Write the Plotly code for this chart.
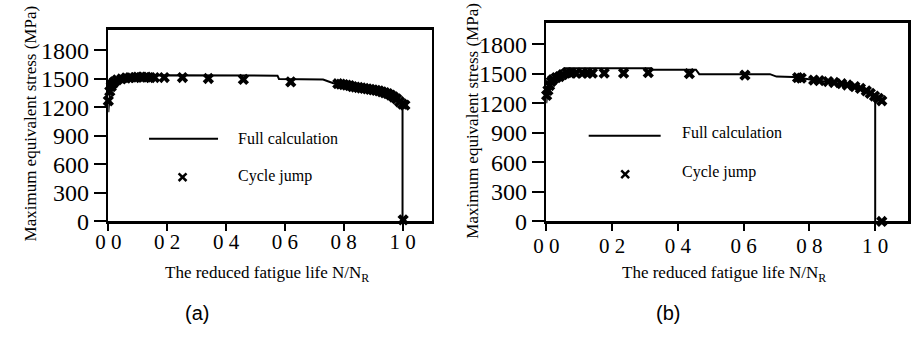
import plotly.graph_objects as go

# ---------------- data ----------------
x_tick_vals = [0.0, 0.2, 0.4, 0.6, 0.8, 1.0]
x_tick_text = ["0 0", "0 2", "0 4", "0 6", "0 8", "1 0"]
y_tick_vals = [0, 300, 600, 900, 1200, 1500, 1800]

a_full_x = [0.0, 0.002, 0.005, 0.01, 0.02, 0.03, 0.05, 0.08, 0.12, 0.2, 0.3, 0.45, 0.575, 0.58,
            0.73, 0.765, 0.8, 0.85, 0.9, 0.94, 0.97, 0.985, 0.995, 1.0, 1.0]
a_full_y = [1150, 1260, 1340, 1400, 1450, 1480, 1510, 1525, 1535, 1540, 1540, 1540, 1535, 1500,
            1495, 1455, 1440, 1420, 1400, 1380, 1350, 1310, 1250, 1200, 0]

a_jump_x = [0.0, 0.005, 0.01, 0.015, 0.02, 0.03, 0.045, 0.06, 0.073, 0.09, 0.10, 0.115, 0.129,
            0.143, 0.157, 0.19, 0.252, 0.34, 0.459, 0.62,
            0.78, 0.79, 0.80, 0.81, 0.82, 0.83, 0.84, 0.85, 0.86, 0.87, 0.88, 0.89, 0.90,
            0.91, 0.92, 0.93, 0.94, 0.95, 0.96, 0.97, 0.98, 0.99, 1.0, 1.008, 1.002]
a_jump_y = [1270, 1370, 1420, 1450, 1470, 1490, 1500, 1510, 1515, 1515, 1520, 1520, 1520,
            1515, 1515, 1515, 1515, 1505, 1495, 1470,
            1450, 1445, 1440, 1435, 1430, 1420, 1415, 1410, 1405, 1400, 1395, 1390, 1385,
            1380, 1375, 1365, 1355, 1345, 1330, 1310, 1290, 1260, 1235, 1225, 17]

b_full_x = [0.0, 0.002, 0.005, 0.01, 0.02, 0.03, 0.045, 0.055, 0.32, 0.325, 0.455, 0.465,
            0.68, 0.70, 0.75, 0.80, 0.85, 0.90, 0.94, 0.97, 0.99, 1.0, 1.0]
b_full_y = [1200, 1290, 1360, 1410, 1460, 1500, 1530, 1555, 1555, 1540, 1540, 1495,
            1495, 1470, 1465, 1440, 1420, 1395, 1365, 1330, 1280, 1210, 0]

b_jump_x = [0.001, 0.005, 0.01, 0.015, 0.02, 0.03, 0.04, 0.05, 0.063, 0.076, 0.09, 0.11,
            0.125, 0.14, 0.176, 0.235, 0.31, 0.435, 0.604, 0.764, 0.775, 0.813, 0.83,
            0.857, 0.875, 0.898, 0.915, 0.938, 0.955, 0.973, 0.985, 0.998, 1.01, 1.02, 1.02]
b_jump_y = [1280, 1330, 1380, 1420, 1440, 1460, 1470, 1490, 1510, 1505, 1505, 1505,
            1505, 1505, 1505, 1505, 1510, 1500, 1485, 1460, 1455, 1435, 1430,
            1420, 1410, 1398, 1385, 1368, 1350, 1325, 1300, 1272, 1250, 1225, 0]

legend_line_label = "Full calculation"
legend_marker_label = "Cycle jump"
y_title = "Maximum equivalent stress (MPa)"
x_title = "The reduced fatigue life N/N<sub>R</sub>"
panel_labels = ["(a)", "(b)"]

# ---------------- figure ----------------
W, H = 914, 350
SERIF = "Liberation Serif"

fig = go.Figure()

panels = [
    dict(xa="x", ya="y", fx=a_full_x, fy=a_full_y, jx=a_jump_x, jy=a_jump_y),
    dict(xa="x2", ya="y2", fx=b_full_x, fy=b_full_y, jx=b_jump_x, jy=b_jump_y),
]
for p in panels:
    fig.add_trace(go.Scatter(x=p["fx"], y=p["fy"], mode="lines", xaxis=p["xa"], yaxis=p["ya"],
                             line=dict(color="black", width=2), showlegend=False, cliponaxis=False,
                             hoverinfo="skip"))
    fig.add_trace(go.Scatter(x=p["jx"], y=p["jy"], mode="markers", xaxis=p["xa"], yaxis=p["ya"],
                             marker=dict(symbol="x", size=10, color="black"),
                             showlegend=False, cliponaxis=False, hoverinfo="skip"))

# pixel geometry of the two plot areas (left, right, top, bottom)
geo = {
    "a": dict(l=96.7, r=425, t=31, b=230, ymax=2017, xlw=2.5, so=-7),
    "b": dict(l=541, r=908, t=24, b=230, ymax=2013, xlw=3, so=-4),
}

def xdom(g):
    return [g["l"] / W, g["r"] / W]

def ydom(g):
    return [1 - g["b"] / H, 1 - g["t"] / H]

xtick_font = dict(family=SERIF, size=21, color="black")
ytick_font = dict(family=SERIF, size=24, color="black")

common_x = dict(range=[0, 1.1], tickvals=x_tick_vals, ticktext=x_tick_text, ticks="outside",
                ticklen=7, tickwidth=2, tickcolor="black", showline=True, linecolor="black",
                mirror=True, showgrid=False, zeroline=False)
common_y = dict(tickvals=y_tick_vals, ticks="outside", ticklen=12, tickwidth=2, tickcolor="black",
                showline=True, linecolor="black", linewidth=2.5, mirror=True, showgrid=False,
                zeroline=False)

ga, gb = geo["a"], geo["b"]
fig.update_layout(
    xaxis=dict(domain=xdom(ga), anchor="y", linewidth=ga["xlw"], ticklabelstandoff=ga["so"], **common_x),
    yaxis=dict(domain=ydom(ga), anchor="x", range=[0, ga["ymax"]], **common_y),
    xaxis2=dict(domain=xdom(gb), anchor="y2", linewidth=gb["xlw"], ticklabelstandoff=gb["so"], **common_x),
    yaxis2=dict(domain=ydom(gb), anchor="x2", range=[0, gb["ymax"]], **common_y),
)
fig.update_xaxes(tickfont=xtick_font)
fig.update_yaxes(tickfont=ytick_font)

annotations = []
shapes = []
leg = {
    "a": dict(x0=138, x1=208, yl=144, yt=144, xm=172, ym=184, ytm=183, xt=226),
    "b": dict(x0=584, x1=657, yl=141, yt=138, xm=621, ym=181, ytm=179, xt=677),
}
titles = {
    "a": dict(yx=18, xy=285, lab=187),
    "b": dict(yx=466, xy=285, lab=664),
}
for key, g in geo.items():
    L = leg[key]
    shapes.append(dict(type="line", xref="paper", yref="paper",
                       x0=L["x0"] / W, x1=L["x1"] / W, y0=1 - L["yl"] / H, y1=1 - L["yl"] / H,
                       line=dict(color="black", width=2)))
    s = 4
    for d in (1, -1):
        shapes.append(dict(type="line", xref="paper", yref="paper",
                           x0=(L["xm"] - s) / W, x1=(L["xm"] + s) / W,
                           y0=1 - (L["ym"] - d * s) / H, y1=1 - (L["ym"] + d * s) / H,
                           line=dict(color="black", width=2.5)))
    annotations.append(dict(text=legend_line_label, xref="paper", yref="paper",
                            x=L["xt"] / W, y=1 - L["yt"] / H, xanchor="left", yanchor="middle",
                            showarrow=False, font=dict(family=SERIF, size=16, color="black")))
    annotations.append(dict(text=legend_marker_label, xref="paper", yref="paper",
                            x=L["xt"] / W, y=1 - L["ytm"] / H, xanchor="left", yanchor="middle",
                            showarrow=False, font=dict(family=SERIF, size=16, color="black")))
    T = titles[key]
    annotations.append(dict(text=y_title, xref="paper", yref="paper", textangle=-90,
                            x=T["yx"] / W, y=1 - ((g["t"] + g["b"]) / 2 - 2) / H,
                            xanchor="center", yanchor="middle", showarrow=False,
                            font=dict(family=SERIF, size=17, color="black")))
    annotations.append(dict(text=x_title, xref="paper", yref="paper",
                            x=((g["l"] + g["r"]) / 2 - 3) / W, y=1 - T["xy"] / H,
                            xanchor="center", yanchor="middle", showarrow=False,
                            font=dict(family=SERIF, size=17, color="black")))

for lab, xpx in zip(panel_labels, [titles["a"]["lab"], titles["b"]["lab"]]):
    annotations.append(dict(text=lab, xref="paper", yref="paper", x=xpx / W, y=1 - 325 / H,
                            xanchor="center", yanchor="middle", showarrow=False,
                            font=dict(family="Liberation Sans Narrow, Liberation Sans, Arial, sans-serif",
                                      size=20, color="black")))

fig.update_layout(
    width=W, height=H, margin=dict(l=0, r=0, t=0, b=0),
    paper_bgcolor="white", plot_bgcolor="white",
    annotations=annotations, shapes=shapes, showlegend=False, hovermode=False,
)

fig.write_html("out.html", config={"displayModeBar": False, "staticPlot": True},
               post_script="document.body.style.margin='0';document.body.style.overflow='hidden';")
